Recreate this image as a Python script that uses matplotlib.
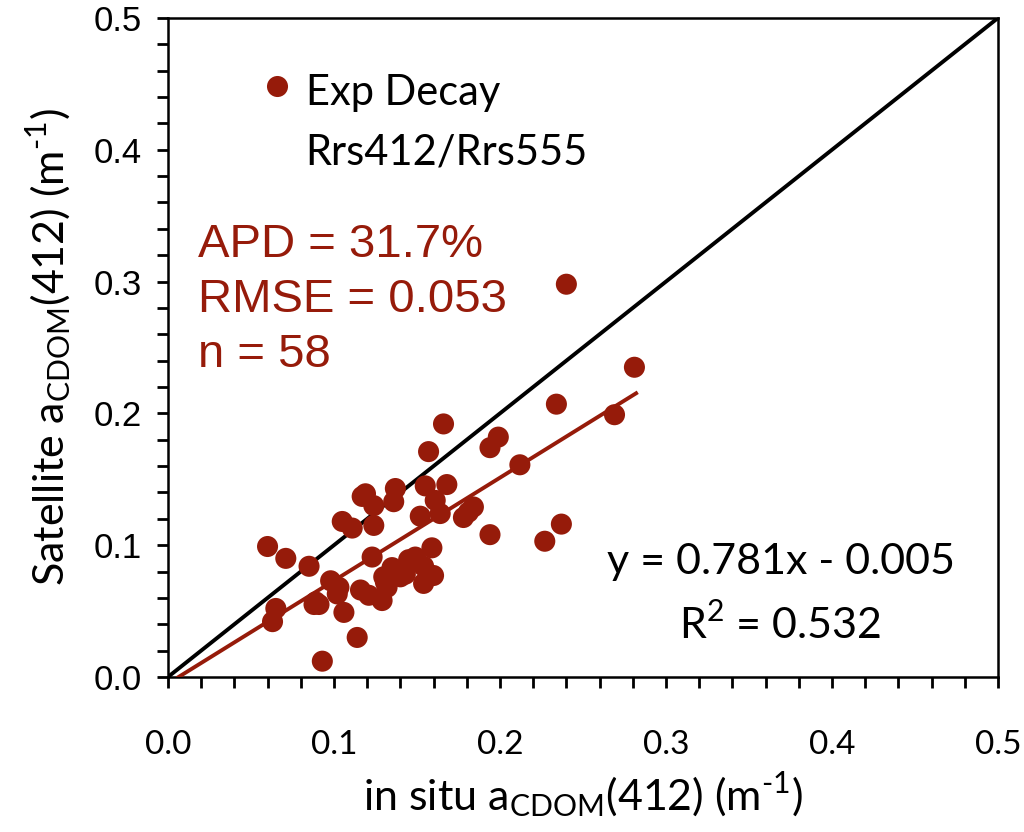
import numpy as np
import matplotlib
matplotlib.use("Agg")
import matplotlib.pyplot as plt

# in situ vs satellite aCDOM(412)
insitu = [0.060, 0.071, 0.065, 0.063, 0.085, 0.088, 0.091, 0.093, 0.098, 0.102,
          0.105, 0.111, 0.106, 0.114, 0.116, 0.117, 0.119, 0.121, 0.124, 0.124,
          0.123, 0.129, 0.130, 0.132, 0.136, 0.137, 0.140, 0.143, 0.145, 0.149,
          0.152, 0.154, 0.154, 0.155, 0.157, 0.159, 0.160, 0.161, 0.164, 0.166,
          0.168, 0.178, 0.181, 0.184, 0.194, 0.194, 0.199, 0.212, 0.227, 0.234,
          0.237, 0.240, 0.269, 0.281, 0.089, 0.103, 0.131, 0.135]
satellite = [0.099, 0.090, 0.052, 0.042, 0.084, 0.055, 0.055, 0.012, 0.073, 0.063,
             0.118, 0.113, 0.049, 0.030, 0.066, 0.137, 0.139, 0.062, 0.130, 0.115,
             0.091, 0.058, 0.076, 0.068, 0.133, 0.143, 0.076, 0.078, 0.089, 0.091,
             0.122, 0.084, 0.071, 0.145, 0.171, 0.098, 0.077, 0.134, 0.124, 0.192,
             0.146, 0.121, 0.125, 0.129, 0.174, 0.108, 0.182, 0.161, 0.103, 0.207,
             0.116, 0.298, 0.199, 0.235, 0.057, 0.068, 0.072, 0.083]

slope, intercept = 0.781, -0.005
fit_x = [0.0064, 0.282]

RED = "#961B0A"
CAL = ["Lato", "DejaVu Sans"]
ARI = ["Liberation Sans", "DejaVu Sans"]

plt.rcParams["font.family"] = CAL
plt.rcParams["mathtext.fontset"] = "custom"
plt.rcParams["mathtext.rm"] = "Lato"

fig = plt.figure(figsize=(10.24, 8.32), dpi=100)
ax = fig.add_axes([0.164, 0.1863, 0.8106, 0.7921])

ax.plot([0, 0.5], [0, 0.5], color="black", lw=2.8, zorder=2)
ax.plot(fit_x, [slope * v + intercept for v in fit_x], color=RED, lw=2.8, zorder=3)
ax.scatter(insitu, satellite, s=230, color=RED, edgecolors="none", zorder=4)

ax.set_xlim(0, 0.5)
ax.set_ylim(0, 0.5)
ax.set_xticks(np.arange(0, 0.51, 0.1))
ax.set_yticks(np.arange(0, 0.51, 0.1))
ax.set_xticks(np.arange(0, 0.51, 0.02), minor=True)
ax.set_yticks(np.arange(0, 0.51, 0.02), minor=True)
ax.tick_params(which="both", direction="out", length=8, width=2)
ax.tick_params(axis="x", which="major", pad=30, labelsize=24)
ax.tick_params(axis="y", which="major", pad=11, labelsize=25)
for lab in ax.get_xticklabels():
    lab.set_fontfamily(CAL)
for lab in ax.get_yticklabels():
    lab.set_fontfamily(ARI)
ax.xaxis.set_major_formatter(matplotlib.ticker.FormatStrFormatter("%.1f"))
ax.yaxis.set_major_formatter(matplotlib.ticker.FormatStrFormatter("%.1f"))
for sp in ax.spines.values():
    sp.set_linewidth(1.8)

ax.set_xlabel(r"in situ a$_{\mathregular{CDOM}}$(412) (m$^{\text{-1}}$)",
              fontsize=31, labelpad=8)
ax.set_ylabel(r"Satellite a$_{\mathregular{CDOM}}$(412) (m$^{\text{-1}}$)",
              fontsize=31, labelpad=14)

# legend-like annotation
ax.scatter([0.066], [0.448], s=230, color=RED, edgecolors="none", zorder=4)
ax.text(0.083, 0.443, "Exp Decay", fontsize=30, va="center", ha="left")
ax.text(0.083, 0.398, "Rrs412/Rrs555", fontsize=30, va="center", ha="left")

ax.text(0.018, 0.328, "APD = 31.7%", fontsize=34, color=RED, va="center",
        ha="left", family=ARI)
ax.text(0.018, 0.286, "RMSE = 0.053", fontsize=34, color=RED, va="center",
        ha="left", family=ARI)
ax.text(0.018, 0.244, "n = 58", fontsize=34, color=RED, va="center",
        ha="left", family=ARI)

ax.text(0.369, 0.087, "y = 0.781x - 0.005", fontsize=31, va="center", ha="center")
ax.text(0.369, 0.040, r"R$^{\mathregular{2}}$ = 0.532", fontsize=31, va="center",
        ha="center")

fig.savefig("out.png", dpi=100)
